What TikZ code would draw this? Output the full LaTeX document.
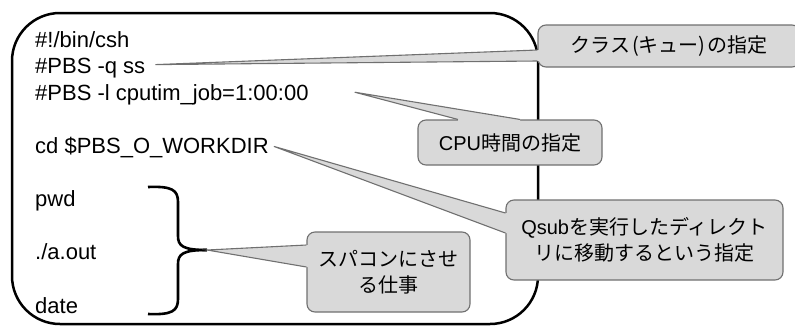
\documentclass[tikz,border=0pt]{standalone}
\usepackage{fontspec}
\setmainfont{Liberation Sans}
\newfontfamily\jp{Noto Sans CJK JP}
\usepackage{tikz}
\usetikzlibrary{calc,positioning}
\definecolor{callgray}{HTML}{D9D9D9}
\definecolor{calledge}{HTML}{707070}

\begin{document}
\begin{tikzpicture}[x=1pt,y=-1pt,
  code/.style={anchor=base west,inner sep=0pt,font=\fontsize{22}{26}\selectfont},
  callout/.style={draw=calledge,fill=callgray,line width=1.1pt,rounded corners=8pt,
    inner sep=0pt,align=center,font=\fontsize{20}{26}\selectfont\jp},
  wedge/.style={fill=callgray},
  wedgeline/.style={draw=calledge,line width=1.1pt,line join=miter}]
\useasboundingbox (0,0) rectangle (795,325);
% job script frame
\draw [line width=2.5pt,rounded corners=48pt] (12,13) rectangle (538,324);
\node [code] (shebang) at (35,47) {\#!/bin/csh};
\node [code] (qline) at (35,73.6) {\#PBS -q ss};
\node [code] (lline) at (35,100.2) {\#PBS -l cputim\_job=1:00:00};
\node [code] (cdline) at (35,153.4) {cd \$PBS\_O\_WORKDIR};
\node [code] (pwd) at (35,206.6) {pwd};
\node [code] (aout) at (35,259.8) {./a.out};
\node [code] (date) at (35,313) {date};
% brace
\coordinate (btip) at (207,250);
\draw [line width=2.6pt] (148,187) .. controls (172,186) and (178,190) .. (178,202) -- (178,236)
  .. controls (178,246) and (183,250) .. (btip);
\draw [line width=2.6pt] (148,314) .. controls (172,315) and (178,311) .. (178,299) -- (178,264)
  .. controls (178,254) and (183,250) .. (btip);
% callouts
\node [callout,minimum width=262pt,minimum height=42pt] (cls) at (669,46) {クラス\kern2pt(キュー)\kern2pt の指定};
\node [callout,minimum width=184pt,minimum height=45pt] (cpu) at (510,142.5) {{\rmfamily CPU}時間の指定};
\node [callout,minimum width=277pt,minimum height=80pt] (wdir) at (644.5,240) {{\rmfamily Qsub}を実行したディレクト\\リに移動するという指定};
\node [callout,minimum width=163pt,minimum height=80pt] (job) at (388.5,272) {スパコンにさせ\\る仕事};
% wedges
\coordinate (t1) at ($(qline.base east)+(10,-9)$);
\coordinate (t2) at ($(lline.base east)+(46,-8)$);
\coordinate (t3) at ($(cdline.base east)+(5,-7)$);
\fill [wedge] (t1) -- ($(cls.west)+(0,4)$) -- ($(cls.west)+(4,4)$) -- ($(cls.west)+(4,15)$) -- ($(cls.west)+(0,15)$) -- cycle;
\draw [wedgeline] ($(cls.west)+(0,4)$) -- (t1) -- ($(cls.west)+(0,15)$);
\fill [wedge] (t2) -- ($(cpu.north)+(-52,0)$) -- ($(cpu.north)+(-52,4)$) -- ($(cpu.north)+(10,4)$) -- ($(cpu.north)+(10,0)$) -- cycle;
\draw [wedgeline] ($(cpu.north)+(-52,0)$) -- (t2) -- ($(cpu.north)+(10,0)$);
\fill [wedge] (t3) -- ($(wdir.west)+(0,-27)$) -- ($(wdir.west)+(4,-27)$) -- ($(wdir.west)+(4,-7)$) -- ($(wdir.west)+(0,-7)$) -- cycle;
\draw [wedgeline] ($(wdir.west)+(0,-27)$) -- (t3) -- ($(wdir.west)+(0,-7)$);
\fill [wedge] (btip) -- ($(job.west)+(0,-27)$) -- ($(job.west)+(4,-27)$) -- ($(job.west)+(4,-5)$) -- ($(job.west)+(0,-5)$) -- cycle;
\draw [wedgeline] ($(job.west)+(0,-27)$) -- (btip) -- ($(job.west)+(0,-5)$);
\end{tikzpicture}
\end{document}
